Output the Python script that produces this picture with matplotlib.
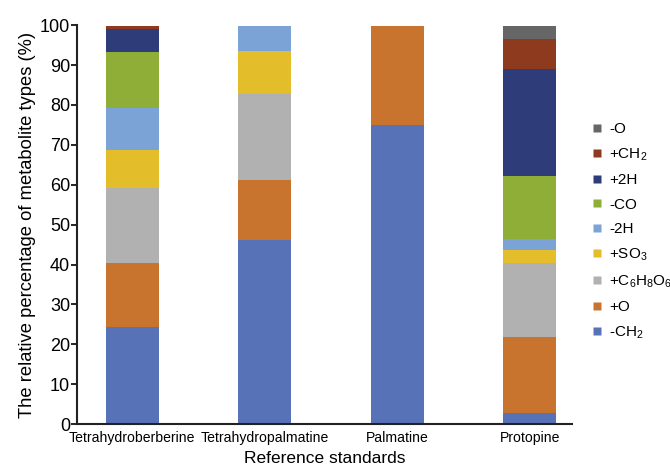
import matplotlib
matplotlib.use("Agg")
import matplotlib.pyplot as plt
from matplotlib.lines import Line2D
import numpy as np

plt.rcParams['font.family'] = ['Liberation Sans', 'DejaVu Sans']
plt.rcParams['mathtext.fontset'] = 'custom'
plt.rcParams['mathtext.rm'] = 'Liberation Sans'
plt.rcParams['mathtext.it'] = 'Liberation Sans:italic'
plt.rcParams['mathtext.default'] = 'regular'

categories = ["Tetrahydroberberine", "Tetrahydropalmatine", "Palmatine", "Protopine"]
types = ["-CH$_2$", "+O", "+C$_6$H$_8$O$_6$", "+SO$_3$", "-2H", "-CO", "+2H", "+CH$_2$", "-O"]
colors = ["#5872B8", "#C8742F", "#B2B1B1", "#E3BD2A", "#7BA3D6", "#8FAE38", "#2E3D7A", "#8E3A1E", "#666666"]

values = {
    "-CH$_2$":          [24.4, 46.2, 75.1, 2.8],
    "+O":               [15.9, 15.1, 24.6, 18.9],
    "+C$_6$H$_8$O$_6$": [18.8, 21.4, 0.0, 18.6],
    "+SO$_3$":          [9.7, 10.8, 0.0, 3.3],
    "-2H":              [10.5, 6.2, 0.0, 2.9],
    "-CO":              [13.9, 0.0, 0.0, 15.6],
    "+2H":              [5.8, 0.0, 0.0, 26.8],
    "+CH$_2$":          [0.7, 0.0, 0.0, 7.7],
    "-O":               [0.0, 0.0, 0.0, 3.1],
}

fig = plt.figure(figsize=(6.7, 4.67), dpi=100)
ax = fig.add_axes([0.115, 0.092, 0.739, 0.854])

x = np.arange(len(categories))
bottom = np.zeros(len(categories))
for t, c in zip(types, colors):
    v = np.array(values[t])
    ax.bar(x, v, 0.4, bottom=bottom, color=c, edgecolor='none')
    bottom += v

ax.set_xlim(-0.415, 3.32)
ax.set_ylim(0, 100)
ax.set_yticks(np.arange(0, 101, 10))
ax.set_xticks(x)
ax.set_xticklabels(categories, fontsize=10.1)
ax.tick_params(axis='y', labelsize=13, length=4, width=1.2, pad=1)
ax.tick_params(axis='x', length=0, pad=5)
for s in ['top', 'right']:
    ax.spines[s].set_visible(False)
for s in ['left', 'bottom']:
    ax.spines[s].set_linewidth(1.5)
    ax.spines[s].set_color('#222222')

ax.set_ylabel("The relative percentage of metabolite types (%)", fontsize=13.2, labelpad=3)
ax.set_xlabel("Reference standards", fontsize=12.5, labelpad=4)

handles = [Line2D([], [], marker='s', linestyle='none', markersize=5.5,
                  markerfacecolor=c, markeredgecolor='none') for c in colors]
leg = fig.legend(handles[::-1], types[::-1], loc='center left',
                 bbox_to_anchor=(0.875, 0.504), frameon=False, fontsize=11,
                 handlelength=0.6, handletextpad=0.5, labelspacing=0.68,
                 borderaxespad=0)

fig.savefig("out.png", dpi=100)
